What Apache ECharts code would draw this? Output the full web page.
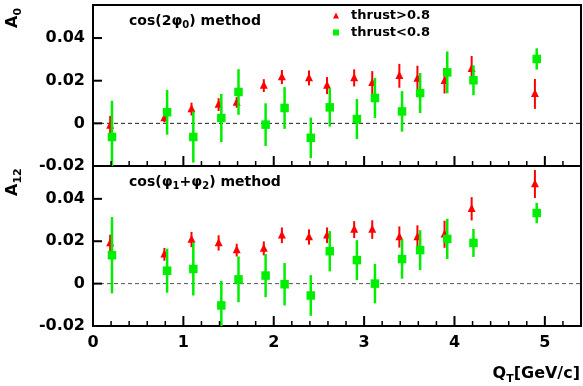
<!DOCTYPE html>
<html>
<head>
<meta charset="utf-8">
<script src="https://cdn.jsdelivr.net/npm/echarts@6/dist/echarts.min.js"></script>
<style>
  html, body { margin: 0; padding: 0; background: #fff; }
  #chart { width: 583px; height: 386px; }
</style>
</head>
<body>
<div id="chart"></div>
<script>
// Q_T bin positions (red slightly left of green in the picture)
const qtHigh = [0.19, 0.79, 1.09, 1.39, 1.59, 1.89, 2.09, 2.39, 2.59, 2.89, 3.09, 3.39, 3.59, 3.89, 4.19, 4.89];
const qtLow = [0.21, 0.82, 1.11, 1.42, 1.61, 1.91, 2.12, 2.41, 2.62, 2.92, 3.12, 3.42, 3.62, 3.92, 4.21, 4.91];

// A0, cos(2phi0) method
const a0High = [-0.001, 0.0025, 0.0067, 0.0088, 0.0098, 0.0177, 0.0217, 0.0213, 0.0177, 0.0213, 0.019, 0.0223, 0.021, 0.020, 0.0256, 0.0138];
const a0HighErr = [0.0045, 0.002, 0.003, 0.003, 0.0025, 0.003, 0.0033, 0.0035, 0.004, 0.004, 0.0055, 0.0056, 0.006, 0.006, 0.006, 0.007];
const a0Low = [-0.0064, 0.0052, -0.0064, 0.0025, 0.0147, -0.0006, 0.0072, -0.0068, 0.0075, 0.002, 0.0119, 0.0056, 0.0142, 0.0239, 0.0202, 0.0302];
const a0LowErr = [0.017, 0.0105, 0.012, 0.0113, 0.0107, 0.01, 0.0098, 0.0095, 0.009, 0.0094, 0.0094, 0.0095, 0.0094, 0.0098, 0.007, 0.005];

// A12, cos(phi1+phi2) method
const a12High = [0.0192, 0.0138, 0.0208, 0.0192, 0.0158, 0.0166, 0.0228, 0.022, 0.0228, 0.0255, 0.0255, 0.022, 0.022, 0.0233, 0.0353, 0.047];
const a12HighErr = [0.0039, 0.003, 0.0036, 0.0036, 0.003, 0.0033, 0.0037, 0.0036, 0.0037, 0.004, 0.0044, 0.005, 0.0055, 0.0064, 0.0055, 0.0066];
const a12Low = [0.0134, 0.0061, 0.0069, -0.0103, 0.002, 0.0038, -0.0003, -0.0056, 0.0153, 0.0111, 0.0, 0.0116, 0.0158, 0.0211, 0.0192, 0.0333];
const a12LowErr = [0.018, 0.0104, 0.0125, 0.0116, 0.0108, 0.0102, 0.01, 0.0096, 0.0095, 0.0094, 0.0093, 0.0093, 0.0094, 0.0095, 0.0066, 0.0048];

// tick positions
const xMajorTicks = [0, 1, 2, 3, 4, 5];
const xMinorTicks = [0.2, 0.4, 0.6, 0.8, 1.2, 1.4, 1.6, 1.8, 2.2, 2.4, 2.6, 2.8, 3.2, 3.4, 3.6, 3.8, 4.2, 4.4, 4.6, 4.8, 5.2];
const yMajorTicks = [-0.02, 0, 0.02, 0.04];

const seriesNames = ['thrust>0.8', 'thrust<0.8'];
const xMin = 0, xMax = 5.4;
const yMin = -0.02, yMax = 0.0555;

const RED = '#ff0000';
const GREEN = '#00ee00';
const FONT = 'DejaVu Sans';

function toPoints(xs, ys, es) {
  return xs.map((x, i) => [x, ys[i], es[i]]);
}

// error bar + marker, placed through the axes
function pointRenderer(kind, color, lw, size) {
  return function (params, api) {
    const x = api.value(0), y = api.value(1), e = api.value(2);
    const c = api.coord([x, y]);
    const lo = api.coord([x, y - e]);
    const hi = api.coord([x, y + e]);
    const bar = {
      type: 'line',
      shape: { x1: c[0], y1: lo[1], x2: c[0], y2: hi[1] },
      style: { stroke: color, lineWidth: lw }
    };
    let mark;
    if (kind === 'tri') {
      mark = {
        type: 'polygon',
        shape: { points: [[c[0], c[1] - size * 0.6], [c[0] - size / 2, c[1] + size * 0.4], [c[0] + size / 2, c[1] + size * 0.4]] },
        style: { fill: color }
      };
    } else {
      mark = {
        type: 'rect',
        shape: { x: c[0] - size / 2, y: c[1] - size / 2, width: size, height: size },
        style: { fill: color }
      };
    }
    return { type: 'group', children: [bar, mark] };
  };
}

// inward tick marks along the bottom (x) or left (y) edge of a panel
function tickRenderer(dir, len, lw) {
  return function (params, api) {
    const p = api.coord([api.value(0), api.value(1)]);
    const shape = dir === 'x'
      ? { x1: p[0], y1: p[1], x2: p[0], y2: p[1] - len }
      : { x1: p[0], y1: p[1], x2: p[0] + len, y2: p[1] };
    return {
      type: 'group',
      children: [{ type: 'line', shape: shape, style: { stroke: '#000', lineWidth: lw } }]
    };
  };
}

function tickSeries(xi, yi, values, dir, len, lw) {
  return {
    type: 'custom', xAxisIndex: xi, yAxisIndex: yi, clip: false, z: 6,
    itemStyle: { color: '#000' },
    encode: { x: 0, y: 1 },
    data: values.map(v => (dir === 'x' ? [v, yMin] : [xMin, v])),
    renderItem: tickRenderer(dir, len, lw)
  };
}

function xAxis(gridIndex, showLabels) {
  return {
    type: 'value', gridIndex: gridIndex, position: 'bottom', min: xMin, max: xMax, interval: 1,
    axisLine: { show: false, onZero: false },
    axisTick: { show: false },
    axisLabel: {
      show: showLabels, margin: 9, showMaxLabel: false,
      color: '#000', fontFamily: FONT, fontWeight: 'bold', fontSize: 16
    },
    splitLine: { show: false }
  };
}

function yAxis(gridIndex) {
  return {
    type: 'value', gridIndex: gridIndex, position: 'left', min: yMin, max: yMax, interval: 0.02,
    axisLine: { show: false, onZero: false },
    axisTick: { show: false },
    axisLabel: {
      margin: 8, showMaxLabel: false,
      color: '#000', fontFamily: FONT, fontWeight: 'bold', fontSize: 16
    },
    splitLine: { show: false }
  };
}

function zeroLine(xi, yi, color) {
  return {
    type: 'line', xAxisIndex: xi, yAxisIndex: yi, silent: true, symbol: 'none',
    data: [[xMin, 0], [xMax, 0]],
    lineStyle: { color: color, width: 1, type: [4, 3] },
    z: 1
  };
}

function pointSeries(name, xi, yi, data, kind, color, lw, size) {
  return {
    name: name, type: 'custom', xAxisIndex: xi, yAxisIndex: yi, clip: true,
    itemStyle: { color: color },
    renderItem: pointRenderer(kind, color, lw, size),
    encode: { x: 0, y: [1, 2] },
    data: data,
    z: 3
  };
}

const chart = echarts.init(document.getElementById('chart'), null, { renderer: 'canvas' });

const titleRich = {
  a: { fontFamily: FONT, fontWeight: 'bold', fontSize: 14, lineHeight: 18, fill: '#000' },
  s: { fontFamily: FONT, fontWeight: 'bold', fontSize: 10, lineHeight: 10, verticalAlign: 'bottom', fill: '#000' }
};
const axisRich = {
  a: { fontFamily: FONT, fontWeight: 'bold', fontSize: 16, lineHeight: 22, fill: '#000' },
  s: { fontFamily: FONT, fontWeight: 'bold', fontSize: 11, lineHeight: 11, verticalAlign: 'bottom', fill: '#000' }
};

chart.setOption({
  animation: false,
  backgroundColor: '#fff',
  grid: [
    { left: 93, right: 2, top: 5, height: 161, show: true, borderColor: '#000', borderWidth: 2 },
    { left: 93, right: 2, top: 166, height: 160, show: true, borderColor: '#000', borderWidth: 2 }
  ],
  xAxis: [xAxis(0, false), xAxis(1, true)],
  yAxis: [yAxis(0), yAxis(1)],
  legend: {
    left: 333, top: 7, orient: 'vertical', padding: 0, itemGap: 0,
    itemWidth: 6, itemHeight: 6,
    textStyle: { fontFamily: FONT, fontWeight: 'bold', fontSize: 13, lineHeight: 17, color: '#000', padding: [0, 0, 0, 7] },
    data: [
      { name: seriesNames[0], icon: 'triangle', itemStyle: { color: RED } },
      { name: seriesNames[1], icon: 'rect', itemStyle: { color: GREEN } }
    ]
  },
  series: [
    zeroLine(0, 0, '#222'),
    zeroLine(1, 1, '#555'),
    tickSeries(0, 0, xMajorTicks, 'x', 10, 2),
    tickSeries(0, 0, xMinorTicks, 'x', 5, 1.5),
    tickSeries(0, 0, yMajorTicks, 'y', 9, 2),
    tickSeries(1, 1, xMajorTicks, 'x', 10, 2),
    tickSeries(1, 1, xMinorTicks, 'x', 5, 1.5),
    tickSeries(1, 1, yMajorTicks, 'y', 9, 2),
    pointSeries(seriesNames[0], 0, 0, toPoints(qtHigh, a0High, a0HighErr), 'tri', RED, 2, 8),
    pointSeries(seriesNames[1], 0, 0, toPoints(qtLow, a0Low, a0LowErr), 'sq', GREEN, 2.5, 8.5),
    pointSeries(seriesNames[0], 1, 1, toPoints(qtHigh, a12High, a12HighErr), 'tri', RED, 2, 8),
    pointSeries(seriesNames[1], 1, 1, toPoints(qtLow, a12Low, a12LowErr), 'sq', GREEN, 2.5, 8.5)
  ],
  graphic: [
    { type: 'text', left: 129, top: 14, style: { text: '{a|cos(2φ}{s|0}{a|) method}', rich: titleRich } },
    { type: 'text', left: 129, top: 175, style: { text: '{a|cos(φ}{s|1}{a|+φ}{s|2}{a|) method}', rich: titleRich } },
    { type: 'text', x: 13, y: 28, rotation: Math.PI / 2, style: { text: '{a|A}{s|0}', rich: axisRich, align: 'left', verticalAlign: 'middle' } },
    { type: 'text', x: 13, y: 196, rotation: Math.PI / 2, style: { text: '{a|A}{s|12}', rich: axisRich, align: 'left', verticalAlign: 'middle' } },
    { type: 'text', right: 3, top: 366, style: { text: '{a|Q}{s|T}{a|[GeV/c]}', rich: axisRich } }
  ]
});
</script>
</body>
</html>
